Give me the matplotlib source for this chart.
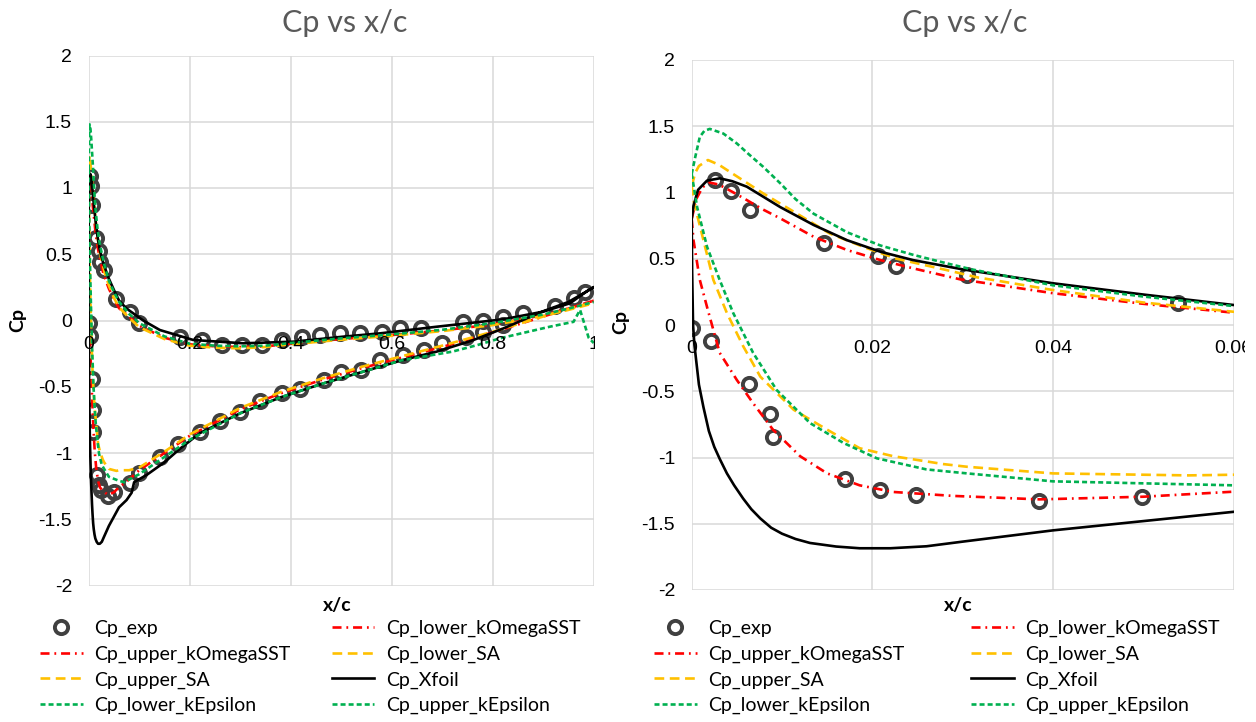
import matplotlib
matplotlib.use('Agg')
import matplotlib.pyplot as plt
import numpy as np
from matplotlib.transforms import Bbox, TransformedBbox, offset_copy

# experiment (both surfaces, markers only)
exp_x = [0.0026, 0.0043, 0.0065, 0.0146, 0.0206, 0.0226, 0.0305, 0.0539, 0.082, 0.100,
         0.181, 0.224, 0.263, 0.303, 0.343, 0.382, 0.422, 0.458, 0.498, 0.537,
         0.580, 0.616, 0.659, 0.742, 0.780, 0.821, 0.860, 0.923, 0.960, 0.983,
         0.0000, 0.0021, 0.0064, 0.0087, 0.0090, 0.0170, 0.0209, 0.0248, 0.0385, 0.0499,
         0.082, 0.100, 0.141, 0.177, 0.220, 0.260, 0.300, 0.339, 0.382, 0.418,
         0.465, 0.500, 0.540, 0.577, 0.623, 0.663, 0.699, 0.748, 0.780, 0.821]
exp_cp = [1.094, 1.014, 0.868, 0.621, 0.523, 0.445, 0.380, 0.164, 0.067, -0.020,
          -0.127, -0.150, -0.185, -0.185, -0.185, -0.147, -0.122, -0.110, -0.092, -0.097,
          -0.085, -0.060, -0.060, -0.010, 0.000, 0.024, 0.054, 0.110, 0.167, 0.217,
          -0.020, -0.120, -0.445, -0.674, -0.843, -1.165, -1.245, -1.283, -1.326, -1.296,
          -1.230, -1.150, -1.030, -0.930, -0.840, -0.760, -0.690, -0.610, -0.550, -0.520,
          -0.450, -0.386, -0.374, -0.300, -0.260, -0.223, -0.172, -0.122, -0.085, -0.034]

# kOmegaSST
kw_lower_x = [0.0, 0.0005, 0.0012, 0.002, 0.003, 0.0045, 0.0061, 0.0078, 0.0098, 0.0135, 0.0172, 0.0209,
              0.0245, 0.0297, 0.04, 0.05, 0.06, 0.08, 0.10, 0.15, 0.20, 0.25, 0.30,
              0.35, 0.40, 0.50, 0.60, 0.70, 0.80, 0.90, 0.95, 1.0]
kw_lower_cp = [0.80, 0.95, 1.04, 1.075, 1.06, 1.005, 0.943, 0.875, 0.805, 0.666, 0.566, 0.49,
               0.428, 0.345, 0.24, 0.16, 0.093, 0.03, -0.04, -0.13, -0.18, -0.195, -0.20,
               -0.195, -0.175, -0.14, -0.11, -0.075, -0.03, 0.04, 0.09, 0.15]
kw_upper_x = [0.0, 0.0002, 0.0009, 0.0018, 0.0031, 0.005, 0.0068, 0.009, 0.012, 0.015,
              0.0186, 0.0223, 0.029, 0.0385, 0.05, 0.06, 0.08, 0.10, 0.15, 0.20,
              0.25, 0.30, 0.38, 0.46, 0.54, 0.62, 0.70, 0.80, 0.90, 0.95, 1.0]
kw_upper_cp = [0.80, 0.64, 0.34, 0.11, -0.21, -0.415, -0.59, -0.79, -0.99, -1.12,
               -1.21, -1.26, -1.29, -1.316, -1.296, -1.258, -1.20, -1.13, -1.00, -0.87,
               -0.77, -0.67, -0.55, -0.45, -0.36, -0.28, -0.20, -0.09, 0.03, 0.09, 0.15]

# Spalart-Allmaras
sa_lower_x = [0.0, 0.0004, 0.0008, 0.0018, 0.003, 0.0042, 0.0079, 0.0116, 0.0153, 0.019, 0.0227, 0.0282,
              0.0316, 0.04, 0.05, 0.06, 0.08, 0.10, 0.15, 0.20, 0.25, 0.30, 0.35,
              0.40, 0.50, 0.60, 0.70, 0.80, 0.90, 0.95, 1.0]
sa_lower_cp = [1.05, 1.15, 1.20, 1.245, 1.21, 1.157, 0.994, 0.843, 0.69, 0.59, 0.50, 0.415,
               0.36, 0.264, 0.17, 0.10, 0.02, -0.05, -0.14, -0.19, -0.205, -0.21, -0.20,
               -0.18, -0.145, -0.115, -0.08, -0.035, 0.035, 0.08, 0.13]
sa_upper_x = [0.0, 0.0002, 0.0013, 0.0024, 0.0039, 0.0057, 0.0076, 0.0113, 0.015, 0.0186,
              0.0223, 0.0279, 0.0305, 0.04, 0.055, 0.06, 0.08, 0.10, 0.15, 0.20,
              0.25, 0.30, 0.38, 0.46, 0.54, 0.62, 0.70, 0.80, 0.90, 0.95, 1.0]
sa_upper_cp = [1.05, 0.94, 0.64, 0.34, 0.09, -0.16, -0.39, -0.64, -0.79, -0.93,
               -0.99, -1.05, -1.07, -1.12, -1.135, -1.13, -1.13, -1.11, -0.99, -0.86,
               -0.76, -0.66, -0.54, -0.44, -0.35, -0.27, -0.19, -0.085, 0.03, 0.085, 0.14]

# Xfoil, one loop: pressure side TE->LE, then suction side LE->TE
xfoil_x = [1.0, 0.99, 0.953, 0.90, 0.821, 0.689, 0.577, 0.504, 0.405, 0.306,
           0.207, 0.141, 0.108, 0.075, 0.06, 0.05, 0.04, 0.030, 0.0245, 0.0209,
           0.0172, 0.0135, 0.0098, 0.0061, 0.0045, 0.0031, 0.0017, 0.0007, 0.0002, 0.0,
           0.00005, 0.00015, 0.0003, 0.0008, 0.0013, 0.0019, 0.0025, 0.0031, 0.0039, 0.0047,
           0.0057, 0.0066, 0.0076, 0.0088, 0.010, 0.0115, 0.0131, 0.016,
           0.0186, 0.022, 0.026, 0.030, 0.040, 0.050, 0.060, 0.075, 0.085, 0.090, 0.115,
           0.150, 0.180, 0.220, 0.300, 0.380, 0.460, 0.540, 0.620, 0.689, 0.760,
           0.821, 0.900, 0.950, 1.0]
xfoil_cp = [0.25, 0.23, 0.13, 0.067, 0.009, -0.047, -0.097, -0.122, -0.16, -0.172,
            -0.147, -0.072, 0.0, 0.09, 0.151, 0.23, 0.315, 0.42, 0.49, 0.553,
            0.64, 0.755, 0.89, 1.044, 1.085, 1.107, 1.09, 1.02, 0.90, 0.80,
            0.40, 0.0, -0.15, -0.45, -0.62, -0.80, -0.92, -1.01, -1.12, -1.21,
            -1.31, -1.39, -1.46, -1.53, -1.575, -1.615, -1.645, -1.672,
            -1.685, -1.685, -1.67, -1.635, -1.55, -1.48, -1.41, -1.355, -1.30, -1.22, -1.165,
            -1.07, -0.97, -0.85, -0.70, -0.58, -0.48, -0.39, -0.30, -0.235, -0.15,
            -0.06, 0.07, 0.14, 0.25]

# kEpsilon
ke_lower_x = [0.0, 0.0004, 0.0009, 0.0014, 0.002, 0.0035, 0.005, 0.0063, 0.0079, 0.0098, 0.0115, 0.0135,
              0.0172, 0.0209, 0.0245, 0.0282, 0.031, 0.04, 0.05, 0.06, 0.08, 0.10, 0.15, 0.20,
              0.25, 0.30, 0.35, 0.40, 0.50, 0.60, 0.70, 0.80, 0.90, 0.95, 1.0]
ke_lower_cp = [1.14, 1.27, 1.42, 1.465, 1.48, 1.445, 1.37, 1.29, 1.195, 1.07, 0.95, 0.84,
               0.70, 0.60, 0.53, 0.466, 0.42, 0.30, 0.215, 0.143, 0.05, -0.02, -0.12, -0.175,
               -0.19, -0.195, -0.19, -0.17, -0.135, -0.105, -0.07, -0.02, 0.045, 0.09, 0.14]
ke_upper_x = [0.0, 0.0006, 0.0017, 0.0031, 0.0046, 0.0068, 0.0094, 0.0131, 0.0168, 0.0205,
              0.026, 0.0305, 0.04, 0.06, 0.07, 0.10, 0.15, 0.20, 0.30, 0.38,
              0.46, 0.54, 0.62, 0.72, 0.77, 0.815, 0.913, 0.96, 0.973, 0.99, 1.0]
ke_upper_cp = [1.14, 0.89, 0.59, 0.34, 0.09, -0.21, -0.49, -0.74, -0.89, -1.006,
               -1.09, -1.12, -1.18, -1.21, -1.22, -1.16, -1.03, -0.90, -0.70, -0.58,
               -0.48, -0.39, -0.30, -0.235, -0.185, -0.134, -0.047, -0.01, 0.08, -0.13, -0.17]

y_ticks = [2, 1.5, 1, 0.5, 0, -0.5, -1, -1.5, -2]
y_labels = ['2', '1.5', '1', '0.5', '0', '-0.5', '-1', '-1.5', '-2']
left_xticks = [0, 0.2, 0.4, 0.6, 0.8, 1.0]
left_xlabels = ['0', '0.2', '0.4', '0.6', '0.8', '1']
right_xticks = [0, 0.02, 0.04, 0.06]
right_xlabels = ['0', '0.02', '0.04', '0.06']

RED, GOLD, GREEN = '#FF0000', '#FFC000', '#00B050'

plt.rcParams['font.family'] = ['Liberation Sans', 'DejaVu Sans']
plt.rcParams['lines.scale_dashes'] = False

W, H = 1256, 722
fig = plt.figure(figsize=(W / 100, H / 100), dpi=100)


def px_rect(x0, y0, x1, y1):
    return [x0 / W, 1 - y1 / H, (x1 - x0) / W, (y1 - y0) / H]


def draw_panel(ax, xmax, xticks, xlabels, clip_x0, clip_x1):
    lw = 1.9
    h = {}
    h['exp'], = ax.plot(exp_x, exp_cp, ls='none', marker='o', ms=9.5, mfc='none',
                        mec='#404040', mew=2.8, zorder=2)
    h['kw_l'], = ax.plot(kw_lower_x, kw_lower_cp, color=RED, lw=lw,
                         dashes=(6.5, 3.5, 1.3, 3.5), zorder=3)
    h['kw_u'], = ax.plot(kw_upper_x, kw_upper_cp, color=RED, lw=lw,
                         dashes=(6.5, 3.5, 1.3, 3.5), zorder=3)
    h['sa_l'], = ax.plot(sa_lower_x, sa_lower_cp, color=GOLD, lw=lw, dashes=(7, 4), zorder=3)
    h['sa_u'], = ax.plot(sa_upper_x, sa_upper_cp, color=GOLD, lw=lw, dashes=(7, 4), zorder=3)
    h['xf'], = ax.plot(xfoil_x, xfoil_cp, color='black', lw=lw, zorder=3)
    h['ke_l'], = ax.plot(ke_lower_x, ke_lower_cp, color=GREEN, lw=lw, dashes=(3.6, 2.2), zorder=3)
    h['ke_u'], = ax.plot(ke_upper_x, ke_upper_cp, color=GREEN, lw=lw, dashes=(3.6, 2.2), zorder=3)

    ax.set_xlim(0, xmax)
    ax.set_ylim(-2, 2)
    ax.set_xticks(xticks)
    ax.set_yticks(y_ticks)
    ax.set_yticklabels(y_labels)
    ax.grid(True, color='#D9D9D9', lw=1.1)
    for s in ax.spines.values():
        s.set_visible(False)
    ax.tick_params(length=0, labelsize=14, labelbottom=False)
    ax.tick_params(axis='y', pad=12)

    # x tick labels sit under the y=0 line, clipped like the chart area
    trans = offset_copy(ax.transData, fig=fig, y=-11, units='points')
    clip = TransformedBbox(Bbox.from_extents(clip_x0 / W, 0, clip_x1 / W, 1), fig.transFigure)
    for v, s in zip(xticks, xlabels):
        t = ax.text(v, 0, s, transform=trans, ha='center', va='top', fontsize=14, zorder=6)
        t.set_clip_path(None)
        t.set_clip_box(clip)
        t.set_clip_on(True)
    return h


ax1 = fig.add_axes(px_rect(88.7, 55.5, 593.7, 585.5))
ax2 = fig.add_axes(px_rect(691.7, 60, 1233.5, 590))
h1 = draw_panel(ax1, 1.0, left_xticks, left_xlabels, 0, 594.5)
h2 = draw_panel(ax2, 0.06, right_xticks, right_xlabels, 615, 1245)

order = ['exp', 'kw_u', 'sa_u', 'ke_l', 'kw_l', 'sa_l', 'xf', 'ke_u']
names = {'exp': 'Cp_exp', 'kw_l': 'Cp_lower_kOmegaSST', 'kw_u': 'Cp_upper_kOmegaSST',
         'sa_l': 'Cp_lower_SA', 'sa_u': 'Cp_upper_SA', 'xf': 'Cp_Xfoil',
         'ke_l': 'Cp_lower_kEpsilon', 'ke_u': 'Cp_upper_kEpsilon'}
lfont = {'family': ['Lato', 'DejaVu Sans'], 'size': 14}

for ax, h, x0, cs in [(ax1, h1, 40, 2.1), (ax2, h2, 654, 3.4)]:
    ax.legend([h[k] for k in order], [names[k] for k in order], ncol=2,
              loc='upper left', bbox_to_anchor=(x0 / W, 1 - 620 / H),
              bbox_transform=fig.transFigure, frameon=False, prop=lfont,
              borderpad=0, borderaxespad=0, handlelength=2.2, handletextpad=0.6,
              labelspacing=0.43, columnspacing=cs)

tfont = dict(family=['Lato', 'DejaVu Sans'], fontsize=22, fontweight='normal',
             color='#595959', ha='center', va='center')
fig.text(345 / W, 1 - 23 / H, 'Cp vs x/c', **tfont)
fig.text(965 / W, 1 - 23 / H, 'Cp vs x/c', **tfont)

bfont = dict(family=['Lato', 'DejaVu Sans'], fontsize=14, fontweight='bold',
             ha='center', va='center')
fig.text(337 / W, 1 - 605 / H, 'x/c', **bfont)
fig.text(958 / W, 1 - 605 / H, 'x/c', **bfont)
fig.text(18 / W, 1 - 320 / H, 'Cp', rotation=90, **bfont)
fig.text(621 / W, 1 - 322 / H, 'Cp', rotation=90, **bfont)

fig.savefig('out.png', dpi=100)
